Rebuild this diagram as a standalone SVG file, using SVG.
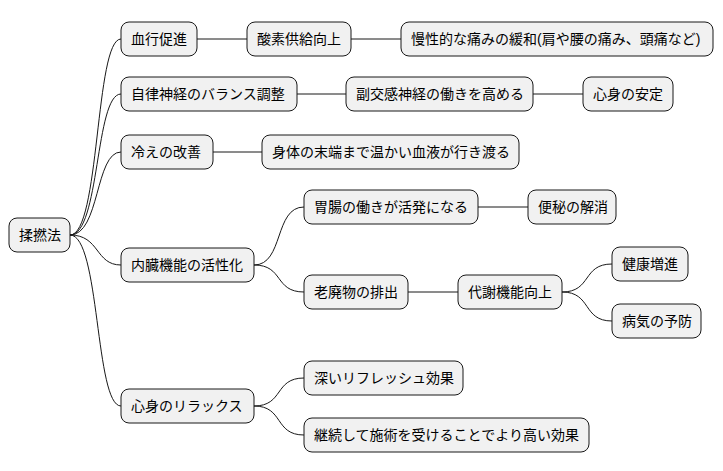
<svg xmlns="http://www.w3.org/2000/svg" width="723" height="471" viewBox="0 0 723 471">
<style>
.n rect{fill:#f1f1f1;stroke:#181818;stroke-width:1}
.n text{font-family:"Liberation Sans","Noto Sans CJK JP",sans-serif;font-size:14px;fill:#000;dominant-baseline:central}
#c path{fill:none;stroke:#181818;stroke-width:1}
</style>
<rect width="723" height="471" fill="#fff"/>
<g id="c">
<path d="M70,235 C100,235 95,39 121,39"/>
<path d="M70,235 C100,235 95,94 121,94"/>
<path d="M70,235 C100,235 95,152 121,152"/>
<path d="M70,235 C100,235 95,265 121,265"/>
<path d="M70,235 C100,235 95,406 121,406"/>
<path d="M197,39 L247,39"/>
<path d="M351,39 L401,39"/>
<path d="M297,94 L346,94"/>
<path d="M533,94 L583,94"/>
<path d="M213,152 L262,152"/>
<path d="M254,265 C284,265 274,207 304,207"/>
<path d="M254,265 C284,265 274,292 304,292"/>
<path d="M478,207 L528,207"/>
<path d="M408,292 L458,292"/>
<path d="M562,292 C592,292 582,264 612,264"/>
<path d="M562,292 C592,292 582,321 612,321"/>
<path d="M254,406 C284,406 274,378 304,378"/>
<path d="M254,406 C284,406 274,435 304,435"/>
</g>
<g id="n0" class="n"><rect x="9" y="218" width="61" height="34" rx="8"/><text x="19" y="235">揉撚法</text></g>
<g id="n1" class="n"><rect x="121" y="22" width="76" height="34" rx="8"/><text x="131" y="39">血行促進</text></g>
<g id="n2" class="n"><rect x="247" y="22" width="104" height="34" rx="8"/><text x="257" y="39">酸素供給向上</text></g>
<g id="n3" class="n"><rect x="401" y="22" width="312" height="34" rx="8"/><text x="411" y="39">慢性的な痛みの緩和(肩や腰の痛み、頭痛など)</text></g>
<g id="n4" class="n"><rect x="121" y="77" width="176" height="34" rx="8"/><text x="131" y="94">自律神経のバランス調整</text></g>
<g id="n5" class="n"><rect x="346" y="77" width="187" height="34" rx="8"/><text x="356" y="94">副交感神経の働きを高める</text></g>
<g id="n6" class="n"><rect x="583" y="77" width="90" height="34" rx="8"/><text x="593" y="94">心身の安定</text></g>
<g id="n7" class="n"><rect x="121" y="135" width="92" height="34" rx="8"/><text x="131" y="152">冷えの改善</text></g>
<g id="n8" class="n"><rect x="262" y="135" width="257" height="34" rx="8"/><text x="272" y="152">身体の末端まで温かい血液が行き渡る</text></g>
<g id="n9" class="n"><rect x="121" y="248" width="133" height="34" rx="8"/><text x="131" y="265">内臓機能の活性化</text></g>
<g id="n10" class="n"><rect x="304" y="190" width="174" height="34" rx="8"/><text x="314" y="207">胃腸の働きが活発になる</text></g>
<g id="n11" class="n"><rect x="528" y="190" width="88" height="34" rx="8"/><text x="538" y="207">便秘の解消</text></g>
<g id="n12" class="n"><rect x="304" y="275" width="104" height="34" rx="8"/><text x="314" y="292">老廃物の排出</text></g>
<g id="n13" class="n"><rect x="458" y="275" width="104" height="34" rx="8"/><text x="468" y="292">代謝機能向上</text></g>
<g id="n14" class="n"><rect x="612" y="247" width="76" height="34" rx="8"/><text x="622" y="264">健康増進</text></g>
<g id="n15" class="n"><rect x="612" y="304" width="89" height="34" rx="8"/><text x="622" y="321">病気の予防</text></g>
<g id="n16" class="n"><rect x="121" y="389" width="133" height="34" rx="8"/><text x="131" y="406">心身のリラックス</text></g>
<g id="n17" class="n"><rect x="304" y="361" width="159" height="34" rx="8"/><text x="314" y="378">深いリフレッシュ効果</text></g>
<g id="n18" class="n"><rect x="304" y="418" width="285" height="34" rx="8"/><text x="314" y="435">継続して施術を受けることでより高い効果</text></g>
</svg>
